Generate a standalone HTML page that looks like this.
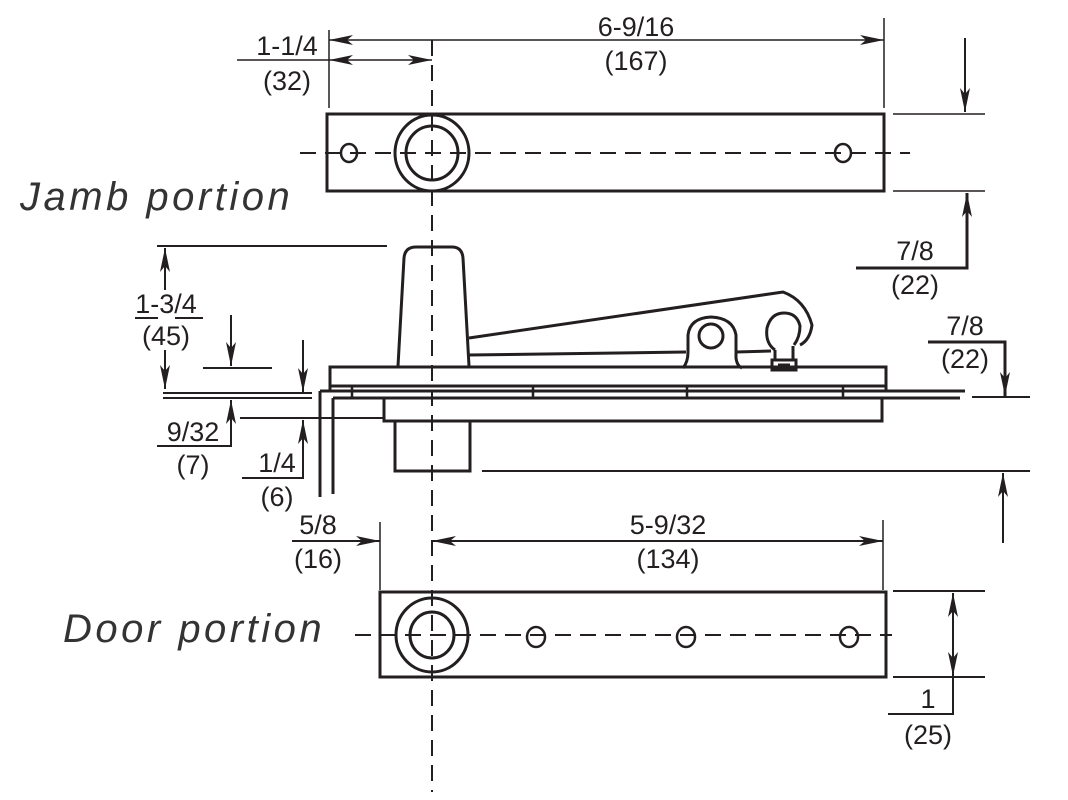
<!DOCTYPE html>
<html><head><meta charset="utf-8"><style>
html,body{margin:0;padding:0;background:#fff;}
svg{display:block;}
text{font-family:"Liberation Sans",sans-serif;font-size:27px;fill:#231f20;text-anchor:middle;}
.lbl{font-size:40px;font-style:italic;text-anchor:start;fill:#333;letter-spacing:3.5px;}
</style></head><body>
<svg width="1068" height="800" viewBox="0 0 1068 800" xmlns="http://www.w3.org/2000/svg">
<defs>
<marker id="a" viewBox="0 0 24 10" refX="24" refY="5" markerWidth="24" markerHeight="10" markerUnits="userSpaceOnUse" orient="auto-start-reverse"><path d="M0,0 L24,5 L0,10 L6,5 Z" fill="#231f20"/></marker>
</defs>
<g stroke="#231f20" fill="none" stroke-width="1.5">
<line x1="432" y1="40" x2="432" y2="792" stroke-width="2" stroke-dasharray="16,9"/>
<rect x="327" y="114" width="557" height="77" stroke-width="3"/>
<line x1="300" y1="153" x2="910" y2="153" stroke-width="2" stroke-dasharray="16,9"/>
<ellipse cx="349" cy="153" rx="8" ry="9" stroke-width="2.5"/>
<ellipse cx="843" cy="153" rx="8" ry="9" stroke-width="2.5"/>
<ellipse cx="432" cy="153" rx="37" ry="38" stroke-width="3"/>
<ellipse cx="432" cy="153" rx="26" ry="27" stroke-width="3"/>
<line x1="329" y1="30" x2="329" y2="108"/>
<line x1="884" y1="18" x2="884" y2="108"/>
<line x1="329" y1="40" x2="884" y2="40" marker-start="url(#a)" marker-end="url(#a)"/>
<line x1="329" y1="60" x2="432" y2="60" marker-start="url(#a)" marker-end="url(#a)"/>
<line x1="237" y1="60" x2="329" y2="60"/>
<line x1="893" y1="114" x2="985" y2="114"/>
<line x1="893" y1="191" x2="985" y2="191"/>
<line x1="965" y1="38" x2="965" y2="112" stroke-width="2" marker-end="url(#a)"/>
<polyline points="856,268 967,268 967,193" stroke-width="3" marker-end="url(#a)"/>
<path d="M398,366 L404,258 Q405,247 416,247 L452,247 Q462,247 463,258 L469,366" stroke-width="3"/>
<path d="M469,338 L783,292 Q805,300 812,325 Q810,340 800,345" stroke-width="3"/>
<line x1="469" y1="355" x2="686" y2="352" stroke-width="3"/>
<path d="M683,368 Q688,362 688,352 L688,335 Q690,318 711,317 Q733,318 736,335 L736,358 Q737,366 742,368" stroke-width="3"/>
<circle cx="711" cy="336" r="12" stroke-width="3"/>
<line x1="736" y1="352" x2="771" y2="351" stroke-width="3"/>
<path d="M775,350 Q765,343 767,328 Q771,313 784,313 Q797,313 800,326 Q800,337 794,345" stroke-width="3"/>
<line x1="775" y1="350" x2="775" y2="360" stroke-width="3"/>
<line x1="793" y1="346" x2="793" y2="360" stroke-width="3"/>
<rect x="772" y="360" width="24" height="10" stroke-width="3"/>
<line x1="778" y1="365" x2="790" y2="365" stroke-width="3"/>
<rect x="330" y="367" width="556" height="19" stroke-width="3"/>
<line x1="330" y1="386" x2="330" y2="391" stroke-width="3"/>
<line x1="886" y1="386" x2="886" y2="391" stroke-width="3"/>
<line x1="320" y1="391" x2="965" y2="391" stroke-width="3"/>
<line x1="333" y1="398" x2="960" y2="398" stroke-width="3"/>
<line x1="352" y1="386" x2="352" y2="398" stroke-width="2.5"/>
<line x1="533" y1="386" x2="533" y2="398" stroke-width="2.5"/>
<line x1="687" y1="386" x2="687" y2="398" stroke-width="2.5"/>
<line x1="843" y1="386" x2="843" y2="398" stroke-width="2.5"/>
<line x1="320" y1="391" x2="320" y2="497" stroke-width="3"/>
<line x1="333" y1="398" x2="333" y2="494" stroke-width="3"/>
<rect x="384" y="398" width="498" height="23" stroke-width="3"/>
<rect x="395" y="421" width="75" height="50" stroke-width="3"/>
<line x1="482" y1="471" x2="1030" y2="471" stroke-width="2"/>
<line x1="157" y1="246" x2="387" y2="246" stroke-width="2"/>
<line x1="165" y1="290" x2="165" y2="248" stroke-width="2" marker-end="url(#a)"/>
<line x1="165" y1="350" x2="165" y2="389" stroke-width="2" marker-end="url(#a)"/>
<line x1="135" y1="318" x2="158" y2="318" stroke-width="2"/>
<line x1="175" y1="318" x2="203" y2="318" stroke-width="2"/>
<line x1="203" y1="368" x2="272" y2="368" stroke-width="2"/>
<line x1="231" y1="315" x2="231" y2="366" stroke-width="2" marker-end="url(#a)"/>
<line x1="163" y1="393" x2="312" y2="393" stroke-width="2"/>
<line x1="163" y1="398" x2="312" y2="398" stroke-width="2"/>
<polyline points="157,446 231,446 231,400" stroke-width="2" marker-end="url(#a)"/>
<line x1="303" y1="340" x2="303" y2="392" stroke-width="2" marker-end="url(#a)"/>
<line x1="240" y1="418" x2="383" y2="418" stroke-width="2"/>
<polyline points="242,478 303,478 303,420" stroke-width="2" marker-end="url(#a)"/>
<polyline points="928,342 1005,342 1005,396" stroke-width="3" marker-end="url(#a)"/>
<line x1="972" y1="397" x2="1030" y2="397" stroke-width="2"/>
<line x1="1003" y1="543" x2="1003" y2="473" stroke-width="2" marker-end="url(#a)"/>
<line x1="380" y1="522" x2="380" y2="590"/>
<line x1="883" y1="520" x2="883" y2="590"/>
<line x1="292" y1="541" x2="380" y2="541" stroke-width="2" marker-end="url(#a)"/>
<line x1="432" y1="541" x2="883" y2="541" stroke-width="2" marker-start="url(#a)" marker-end="url(#a)"/>
<rect x="380" y="592" width="506" height="85" stroke-width="3"/>
<line x1="355" y1="635" x2="892" y2="635" stroke-width="2" stroke-dasharray="16,9"/>
<ellipse cx="432" cy="635" rx="36" ry="37" stroke-width="3"/>
<ellipse cx="432" cy="635" rx="22" ry="23" stroke-width="3"/>
<ellipse cx="536" cy="637" rx="9" ry="10" stroke-width="2.5"/>
<ellipse cx="686" cy="637" rx="9" ry="10" stroke-width="2.5"/>
<ellipse cx="849" cy="637" rx="9" ry="10" stroke-width="2.5"/>
<line x1="893" y1="591" x2="985" y2="591" stroke-width="2"/>
<line x1="893" y1="677" x2="985" y2="677" stroke-width="2"/>
<line x1="953" y1="635" x2="953" y2="593" stroke-width="2" marker-end="url(#a)"/>
<line x1="953" y1="635" x2="953" y2="676" stroke-width="2" marker-end="url(#a)"/>
<polyline points="888,714 953,714 953,677" stroke-width="2"/>
</g>
<g>
<text x="636" y="36">6-9/16</text>
<text x="636" y="70">(167)</text>
<text x="287" y="55">1-1/4</text>
<text x="287" y="90">(32)</text>
<text x="915" y="260">7/8</text>
<text x="915" y="294">(22)</text>
<text x="166" y="313">1-3/4</text>
<text x="166" y="345">(45)</text>
<text x="193" y="441">9/32</text>
<text x="193" y="474">(7)</text>
<text x="277" y="472">1/4</text>
<text x="277" y="506">(6)</text>
<text x="965" y="335">7/8</text>
<text x="965" y="368">(22)</text>
<text x="318" y="534">5/8</text>
<text x="318" y="568">(16)</text>
<text x="668" y="534">5-9/32</text>
<text x="668" y="568">(134)</text>
<text x="928" y="708">1</text>
<text x="928" y="744">(25)</text>
<text class="lbl" x="20" y="210">Jamb portion</text>
<text class="lbl" x="63" y="642">Door portion</text>
</g>
</svg>
</body></html>
